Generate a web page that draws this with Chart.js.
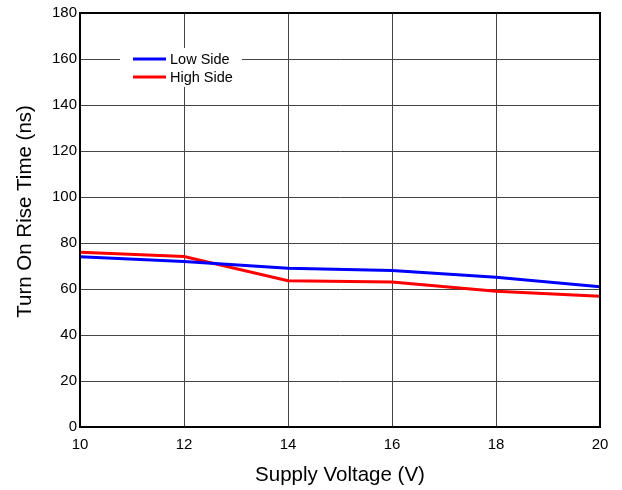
<!DOCTYPE html>
<html>
<head>
<meta charset="utf-8">
<script src="https://cdn.jsdelivr.net/npm/chart.js@4.4.1/dist/chart.umd.min.js"></script>
<style>
  html, body { margin: 0; padding: 0; background: #fff; }
  #wrap { width: 622px; height: 490px; }
</style>
</head>
<body>
<div id="wrap"><canvas id="myChart" width="622" height="490"></canvas></div>
<script>
const voltages = [10, 12, 14, 16, 18, 20];
const lowSide = [74, 72, 69, 68, 65.1, 61];
const highSide = [76, 74.1, 63.6, 63, 59, 56.8];
const yTicks = [0, 20, 40, 60, 80, 100, 120, 140, 160, 180];

const font = 'Arial, "Liberation Sans", sans-serif';

// border round the plot and the legend box inside it
const framePlugin = {
    id: 'frame',
    afterDraw(chart) {
        const c = chart.ctx;
        const a = chart.chartArea;
        c.save();
        c.strokeStyle = '#000';
        c.lineWidth = 2;
        c.strokeRect(a.left, a.top, a.right - a.left, a.bottom - a.top);

        // legend
        const bx = a.left + 40, by = a.top + 35;
        c.fillStyle = '#fff';
        c.fillRect(bx, by, 122, 39);
        c.font = '14.5px ' + font;
        c.textBaseline = 'middle';
        const rows = [['Low Side', '#0000ff'], ['High Side', '#ff0000']];
        rows.forEach((r, i) => {
            const y = by + 11 + i * 18;
            c.strokeStyle = r[1];
            c.lineWidth = 3;
            c.beginPath();
            c.moveTo(bx + 13, y);
            c.lineTo(bx + 46, y);
            c.stroke();
            c.fillStyle = '#000';
            c.fillText(r[0], bx + 50, y + 1);
        });
        c.restore();
    }
};

const ctx = document.getElementById('myChart').getContext('2d');
const myChart = new Chart(ctx, {
    type: 'line',
    data: {
        datasets: [{
            label: 'Low Side',
            data: voltages.map((v, i) => ({x: v, y: lowSide[i]})),
            borderColor: '#0000ff',
            borderWidth: 3,
            pointRadius: 0,
            tension: 0
        }, {
            label: 'High Side',
            data: voltages.map((v, i) => ({x: v, y: highSide[i]})),
            borderColor: '#ff0000',
            borderWidth: 3,
            pointRadius: 0,
            tension: 0
        }]
    },
    options: {
        responsive: false,
        animation: false,
        layout: { padding: { top: 13, right: 22, left: 13, bottom: 0 } },
        plugins: {
            legend: { display: false },
            tooltip: { enabled: false }
        },
        scales: {
            x: {
                type: 'linear',
                min: 10,
                max: 20,
                ticks: { stepSize: 2, color: '#000', font: { family: font, size: 15 }, padding: 9 },
                grid: { color: '#444', drawTicks: false },
                border: { color: '#000', width: 2 },
                title: { display: true, text: 'Supply Voltage (V)', color: '#000', font: { family: font, size: 20.5 }, padding: { top: 4, bottom: 2 } },
                afterFit(scale) { scale.height = 63; }
            },
            y: {
                min: 0,
                max: 180,
                afterBuildTicks(scale) { scale.ticks = yTicks.map(v => ({value: v})); },
                ticks: { color: '#000', font: { family: font, size: 15 }, padding: 3 },
                grid: { color: '#444', drawTicks: false },
                border: { color: '#000', width: 2 },
                title: { display: true, text: '   Turn On Rise Time (ns)', color: '#000', font: { family: font, size: 20.5 }, padding: { top: 0, bottom: 8 } },
                afterFit(scale) { scale.width = 67; }
            }
        }
    },
    plugins: [framePlugin]
});
</script>
</body>
</html>
